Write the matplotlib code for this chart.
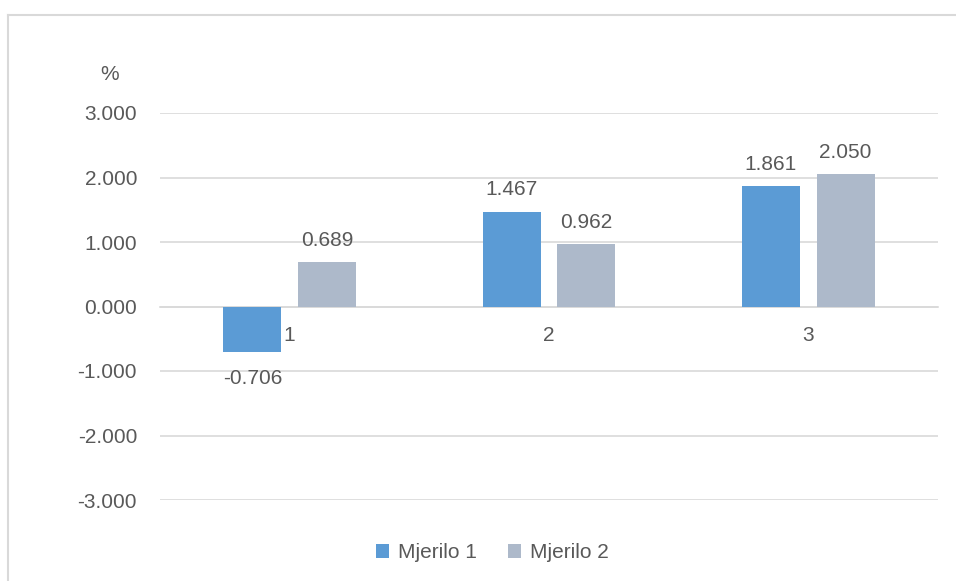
import numpy as np
import matplotlib
matplotlib.use("Agg")
import matplotlib.pyplot as plt
from matplotlib.lines import Line2D

categories = ["1", "2", "3"]
mjerilo1 = [-0.706, 1.467, 1.861]
mjerilo2 = [0.689, 0.962, 2.050]
series_names = ["Mjerilo 1", "Mjerilo 2"]
yticks = [-3, -2, -1, 0, 1, 2, 3]

plt.rcParams['font.family'] = ['Liberation Sans', 'DejaVu Sans']
txt = "#595959"
grid = "#D9D9D9"
fs = 15

W, H = 956, 581
fig = plt.figure(figsize=(W / 100, H / 100), dpi=100)
ax = fig.add_axes([160 / W, 1 - 500 / H, (938 - 160) / W, (500 - 113) / H])

x = np.arange(1, len(categories) + 1)
w = 0.223
off = 0.144
b1 = ax.bar(x - off, mjerilo1, w, color="#5B9BD5", label=series_names[0], zorder=3)
b2 = ax.bar(x + off, mjerilo2, w, color="#ADB9CA", label=series_names[1], zorder=3)

# value labels
for bars, vals in ((b1, mjerilo1), (b2, mjerilo2)):
    for r, v in zip(bars, vals):
        cx = r.get_x() + r.get_width() / 2
        if v >= 0:
            ax.annotate(f"{v:.3f}", (cx, v), xytext=(0, 9), textcoords="offset points",
                        ha="center", va="bottom", fontsize=fs, color=txt)
        else:
            ax.annotate(f"{v:.3f}", (cx, v), xytext=(0, -12), textcoords="offset points",
                        ha="center", va="top", fontsize=fs, color=txt)

ax.set_xlim(0.5, 3.5)
ax.set_ylim(-3, 3)
ax.set_yticks(yticks)
ax.set_yticklabels([f"{t:.3f}" for t in yticks])
ax.set_xticks(x)
ax.set_xticklabels(categories)
ax.grid(axis="y", color=grid, linewidth=1.2, zorder=0)
for s in ["top", "right", "left"]:
    ax.spines[s].set_visible(False)
ax.spines["bottom"].set_position(("data", 0))
ax.spines["bottom"].set_color(grid)
ax.spines["bottom"].set_linewidth(1.2)
ax.tick_params(axis="y", length=0, pad=16.5, labelsize=fs, labelcolor=txt)
ax.tick_params(axis="x", length=0, pad=14, labelsize=fs, labelcolor=txt)

fig.text(110 / W, 1 - 74 / H, "%", ha="center", va="center", fontsize=fs, color=txt)

fig.legend(handles=[b1, b2], labels=series_names, loc="center", ncol=2,
           bbox_to_anchor=(492 / W, 1 - 553 / H), frameon=False, fontsize=fs,
           labelcolor=txt, handlelength=0.65, handleheight=0.65, handletextpad=0.4,
           columnspacing=1.5)

# chart border (left and top edges visible)
fig.add_artist(Line2D([7.5 / W, 7.5 / W], [0, 1 - 15 / H], color=grid, linewidth=1.5))
fig.add_artist(Line2D([7.5 / W, 1], [1 - 15 / H, 1 - 15 / H], color=grid, linewidth=1.5))

fig.savefig("out.png", dpi=100, facecolor="white")
